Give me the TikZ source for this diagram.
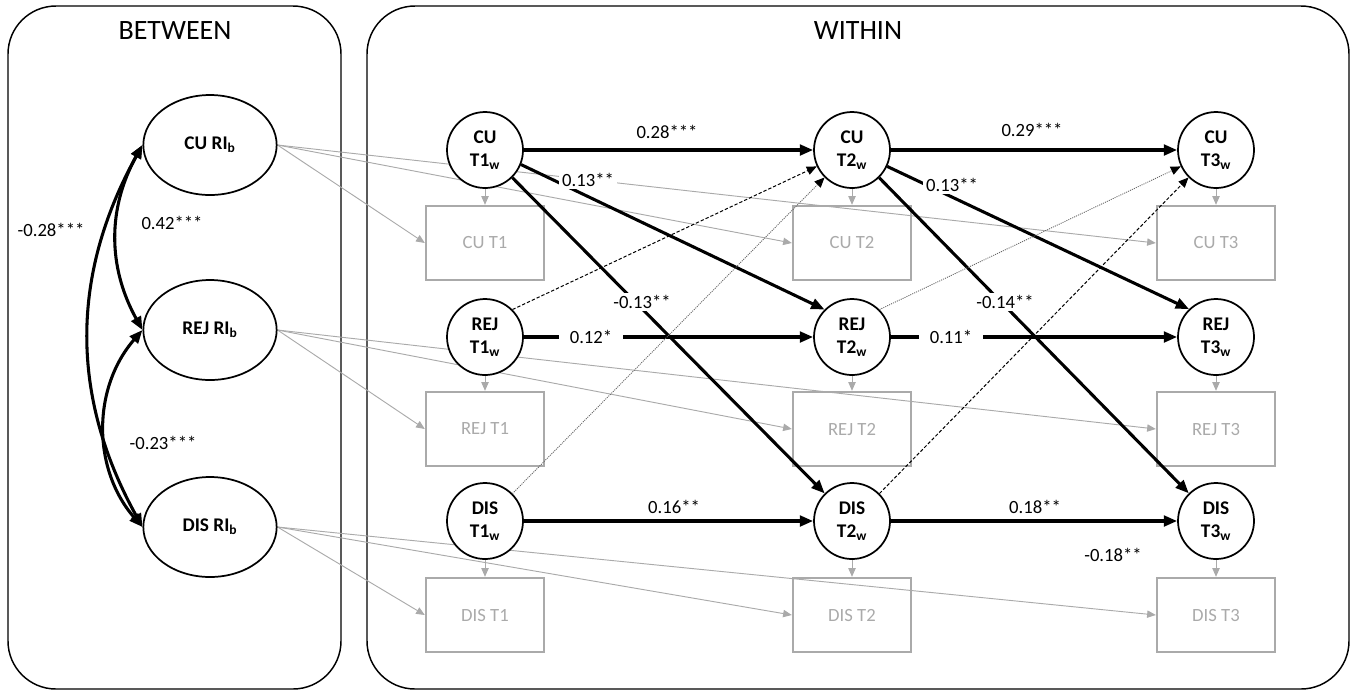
\documentclass[tikz,border=0pt]{standalone}
\usepackage{fontspec}
\setmainfont{Carlito}
\usetikzlibrary{arrows.meta}
\usetikzlibrary{backgrounds}
\usetikzlibrary{shapes.geometric}

\definecolor{obsgray}{RGB}{170,170,170}

\begin{document}
\begin{tikzpicture}
	[x=0.75pt, y=-0.75pt,
	latent/.style={circle, draw, line width=1.3pt, fill=white, minimum size=57pt, inner sep=0pt, align=center, font=\fontsize{14.5}{17}\selectfont\bfseries},
	ri/.style={ellipse, draw, line width=1.3pt, fill=white, minimum width=100pt, minimum height=75pt, font=\fontsize{14.5}{17}\selectfont\bfseries},
	obs/.style={rectangle, draw=obsgray, line width=1.3pt, minimum width=89pt, minimum height=56pt, text=obsgray, font=\fontsize{14}{16.5}\selectfont},
	coef/.style={fill=white, inner sep=2pt, font=\fontsize{14}{16.5}\selectfont},
	effect/.style={line width=2.3pt, -{Triangle[length=10pt,width=8pt]}},
	cov/.style={line width=2.3pt, {Triangle[length=10pt,width=8pt]}-{Triangle[length=10pt,width=8pt]}},
	load/.style={draw=obsgray, line width=0.7pt, -{Triangle[length=6.5pt,width=5.5pt]}},
	crossdash/.style={line width=0.75pt, dash pattern=on 2.5pt off 1.5pt, -{Triangle[length=7.5pt,width=6.5pt]}},
	crossdot/.style={line width=0.65pt, draw=black!60, dash pattern=on 0.8pt off 0.8pt, -{Triangle[length=7.5pt,width=6.5pt,color=black]}}]

	\useasboundingbox (0,0) rectangle (1357,694);

	%Random intercepts
	\node[ri] (ricu) at (210,145) {CU RI\textsubscript{b}};
	\node[ri] (rirej) at (210,330) {REJ RI\textsubscript{b}};
	\node[ri] (ridis) at (210,527) {DIS RI\textsubscript{b}};

	%Within factors
	\node[latent] (cu1) at (485,150) {CU\\T1\textsubscript{w}};
	\node[latent] (cu2) at (852,150) {CU\\T2\textsubscript{w}};
	\node[latent] (cu3) at (1216,150) {CU\\T3\textsubscript{w}};
	\node[latent] (rej1) at (485,337) {REJ\\T1\textsubscript{w}};
	\node[latent] (rej2) at (852,337) {REJ\\T2\textsubscript{w}};
	\node[latent] (rej3) at (1216,337) {REJ\\T3\textsubscript{w}};
	\node[latent] (dis1) at (485,521) {DIS\\T1\textsubscript{w}};
	\node[latent] (dis2) at (852,521) {DIS\\T2\textsubscript{w}};
	\node[latent] (dis3) at (1216,521) {DIS\\T3\textsubscript{w}};

	%Observed
	\node[obs] (ocu1) at (485,243) {CU T1};
	\node[obs] (ocu2) at (852,243) {CU T2};
	\node[obs] (ocu3) at (1216,243) {CU T3};
	\node[obs] (orej1) at (485,429) {REJ T1};
	\node[obs] (orej2) at (852,429) {REJ T2};
	\node[obs] (orej3) at (1216,429) {REJ T3};
	\node[obs] (odis1) at (485,615) {DIS T1};
	\node[obs] (odis2) at (852,615) {DIS T2};
	\node[obs] (odis3) at (1216,615) {DIS T3};

	\begin{scope}[on background layer]
		%Panels
		\draw[line width=1.1pt, rounded corners=36pt] (8,6) rectangle (341,689);
		\draw[line width=1.1pt, rounded corners=36pt] (367,6) rectangle (1349,689);
		\node (between) at (175,31) {\fontsize{21}{24}\selectfont BETWEEN};
		\node (within) at (858,31) {\fontsize{21}{24}\selectfont WITHIN};

		%Loadings
		\draw[load] (ricu.east) -- (ocu1.west);
		\draw[load] (ricu.east) -- (ocu2.west);
		\draw[load] (ricu.east) -- (ocu3.west);
		\draw[load] (rirej.east) -- (orej1.west);
		\draw[load] (rirej.east) -- (orej2.west);
		\draw[load] (rirej.east) -- (orej3.west);
		\draw[load] (ridis.east) -- (odis1.west);
		\draw[load] (ridis.east) -- (odis2.west);
		\draw[load] (ridis.east) -- (odis3.west);
		\draw[load] (cu1) -- (ocu1);
		\draw[load] (cu2) -- (ocu2);
		\draw[load] (cu3) -- (ocu3);
		\draw[load] (rej1) -- (orej1);
		\draw[load] (rej2) -- (orej2);
		\draw[load] (rej3) -- (orej3);
		\draw[load] (dis1) -- (odis1);
		\draw[load] (dis2) -- (odis2);
		\draw[load] (dis3) -- (odis3);
	\end{scope}

	%Covariances
	\draw[cov] (ricu.west) to[out=241, in=119] (ridis.west);
	\draw[cov] (ricu.west) to[out=241, in=119] (rirej.west);
	\draw[cov] (rirej.west) to[out=229, in=131] (ridis.west);
	\node[coef] (c1) at (51,230) {-0.28***};
	\node[coef, fill=none] (c2) at (172,223) {0.42***};
	\node[coef, fill=none] (c3) at (163,443) {-0.23***};

	%Autoregressive
	\draw[effect] (cu1) -- (cu2);
	\draw[effect] (cu2) -- (cu3);
	\draw[effect] (rej1) -- (rej2);
	\draw[effect] (rej2) -- (rej3);
	\draw[effect] (dis1) -- (dis2);
	\draw[effect] (dis2) -- (dis3);

	%Cross-lagged
	\draw[effect] (cu1.-22) -- (rej2.135);
	\draw[effect] (cu2.-25) -- (rej3.134);
	\draw[effect] (cu1) -- (dis2);
	\draw[effect] (cu2) -- (dis3);
	\draw[crossdash] (rej1.45) -- (cu2.205);
	\draw[crossdot] (dis1.45) -- (cu2.225);
	\draw[crossdot] (rej2.45) -- (cu3.205);
	\draw[crossdash] (dis2.45) -- (cu3.225);

	\node[coef] (b1) at (667,132) {0.28***};
	\node[coef] (b2) at (1032,130) {0.29***};
	\node[coef] (b3) at (588,180) {0.13**};
	\node[coef] (b4) at (952,185) {0.13**};
	\node[coef] (b5) at (642,302) {-0.13**};
	\node[coef] (b6) at (1005,302) {-0.14**};
	\node[coef, inner xsep=8pt] (b7) at (591,337) {0.12*};
	\node[coef, inner xsep=8pt] (b8) at (951,337) {0.11*};
	\node[coef] (b9) at (674,507) {0.16**};
	\node[coef] (b10) at (1035,507) {0.18**};
	\node[coef] (b11) at (1113,555) {-0.18**};
\end{tikzpicture}
\end{document}
